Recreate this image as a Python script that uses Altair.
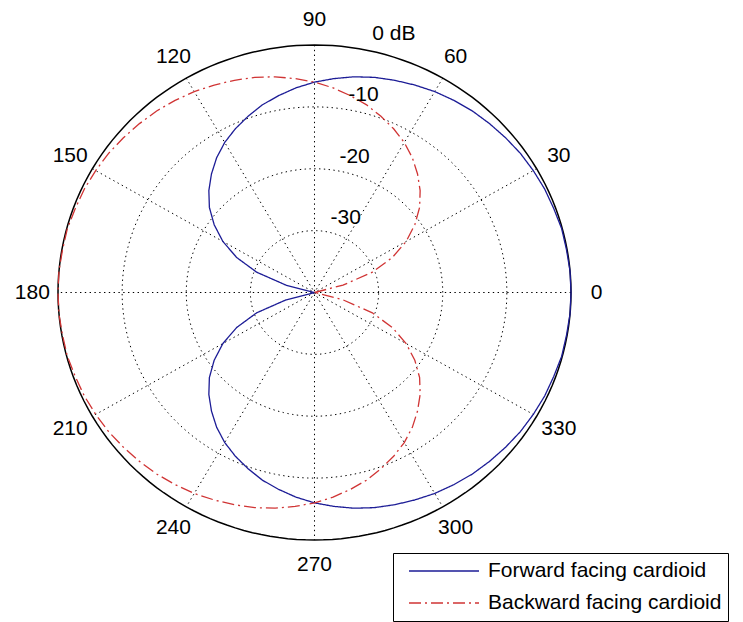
import altair as alt
import pandas as pd

# Directional response of two cardioid microphones, in dB (floor at -40 dB)
angles = list(range(0, 361, 5))
forward_db = [
    0.0, -0.0, -0.1, -0.1, -0.3, -0.4, -0.6, -0.8, -1.1, -1.4, -1.7, -2.1,
    -2.5, -3.0, -3.5, -4.0, -4.6, -5.3, -6.0, -6.8, -7.7, -8.6, -9.7, -10.8,
    -12.0, -13.4, -15.0, -16.7, -18.6, -20.9, -23.5, -26.6, -30.4, -35.4, -40.0, -40.0,
    -40.0,
    -40.0, -40.0, -35.4, -30.4, -26.6, -23.5, -20.9, -18.6, -16.7, -15.0, -13.4, -12.0,
    -10.8, -9.7, -8.6, -7.7, -6.8, -6.0, -5.3, -4.6, -4.0, -3.5, -3.0, -2.5,
    -2.1, -1.7, -1.4, -1.1, -0.8, -0.6, -0.4, -0.3, -0.1, -0.1, -0.0, 0.0,
]
backward_db = [
    -40.0, -40.0, -40.0, -35.4, -30.4, -26.6, -23.5, -20.9, -18.6, -16.7, -15.0, -13.4,
    -12.0, -10.8, -9.7, -8.6, -7.7, -6.8, -6.0, -5.3, -4.6, -4.0, -3.5, -3.0,
    -2.5, -2.1, -1.7, -1.4, -1.1, -0.8, -0.6, -0.4, -0.3, -0.1, -0.1, 0.0,
    0.0,
    0.0, -0.1, -0.1, -0.3, -0.4, -0.6, -0.8, -1.1, -1.4, -1.7, -2.1, -2.5,
    -3.0, -3.5, -4.0, -4.6, -5.3, -6.0, -6.8, -7.7, -8.6, -9.7, -10.8, -12.0,
    -13.4, -15.0, -16.7, -18.6, -20.9, -23.5, -26.6, -30.4, -35.4, -40.0, -40.0, -40.0,
]
series_names = ["Forward facing cardioid", "Backward facing cardioid"]
series_colors = ["#1c1c96", "#d03434"]
series_dashes = [[1, 0], [12, 4, 2, 4]]

db_floor = -40
ring_db = [-30, -20, -10, 0]
ring_text = ["-30", "-20", "-10", "0 dB"]
spoke_deg = [0, 30, 60, 90, 120, 150]
angle_ticks = list(range(0, 360, 30))
circle_deg = list(range(0, 361, 2))

FONT = "Liberation Sans"
GRID_DASH = [1.4, 3.4]
NBSP = "\u00a0"

curves = pd.DataFrame({
    "angle": angles * 2,
    "db": forward_db + backward_db,
    "series": [series_names[0]] * len(angles) + [series_names[1]] * len(angles),
    "idx": list(range(len(angles))) * 2,
})
rings = pd.DataFrame(
    [{"db": d, "angle": a, "idx": i} for d in ring_db for i, a in enumerate(circle_deg)]
)
spokes = pd.DataFrame({"angle": spoke_deg})
ticks = pd.DataFrame({"angle": angle_ticks, "label": [str(a) for a in angle_ticks]})
ring_labels = pd.DataFrame({"db": ring_db, "label": ring_text})

# dB -> normalised radius (0 at the floor, 1 at 0 dB)
R_EXPR = f"(max(datum.db, {db_floor}) - ({db_floor})) / {-db_floor}"

xs = alt.Scale(domain=[-1.22612, 1.67057], nice=False, zero=False)
ys = alt.Scale(domain=[-1.33131, 1.18182], nice=False, zero=False)
X = alt.X("x:Q", scale=xs, axis=None)
Y = alt.Y("y:Q", scale=ys, axis=None)


def polar(chart, radius=R_EXPR):
    return chart.transform_calculate(r=radius).transform_calculate(
        x="datum.r * cos(datum.angle * PI / 180)",
        y="datum.r * sin(datum.angle * PI / 180)",
    )


dotted_rings = polar(
    alt.Chart(rings).transform_filter("datum.db < 0")
).mark_line(stroke="#000", strokeWidth=1, strokeDash=GRID_DASH).encode(
    x=X, y=Y, detail="db:N", order="idx:Q"
)

outer_ring = polar(
    alt.Chart(rings).transform_filter("datum.db == 0")
).mark_line(stroke="#000", strokeWidth=1.5).encode(x=X, y=Y, order="idx:Q")

spoke_lines = alt.Chart(spokes).transform_calculate(
    x="cos(datum.angle * PI / 180)",
    y="sin(datum.angle * PI / 180)",
    x2="-cos(datum.angle * PI / 180)",
    y2="-sin(datum.angle * PI / 180)",
).mark_rule(stroke="#000", strokeWidth=1, strokeDash=GRID_DASH).encode(
    x=X, y=Y, x2="x2:Q", y2="y2:Q"
)

# legend box runs on past the right edge of the canvas
legend = alt.Legend(
    title=None,
    orient="none",
    legendX=393,
    legendY=553,
    strokeColor="#000",
    fillColor="#fff",
    padding=6,
    cornerRadius=0,
    symbolType="stroke",
    symbolSize=4900,
    symbolStrokeWidth=1.3,
    symbolOffset=9,
    labelFont=FONT,
    labelFontSize=21,
    labelColor="#000",
    labelOffset=8,
    labelLimit=0,
    clipHeight=24,
    rowPadding=8,
    labelExpr="datum.label + '" + NBSP * 8 + "'",
)

curve_lines = polar(alt.Chart(curves)).mark_line(strokeWidth=1.3).encode(
    x=X,
    y=Y,
    order="idx:Q",
    color=alt.Color("series:N", scale=alt.Scale(domain=series_names, range=series_colors),
                    sort=series_names, legend=legend),
    strokeDash=alt.StrokeDash("series:N", scale=alt.Scale(domain=series_names, range=series_dashes),
                              sort=series_names, legend=legend),
)

tick_text = alt.Chart(ticks).transform_calculate(
    x="1.1 * cos(datum.angle * PI / 180)",
    y="1.1 * sin(datum.angle * PI / 180)",
).mark_text(font=FONT, fontSize=21, color="#000", align="center", baseline="middle").encode(
    x=X, y=Y, text="label:N"
)

ring_r = f"{R_EXPR} + 0.03"
ring_label_base = alt.Chart(ring_labels).transform_calculate(angle="82")
ring_text_inner = polar(
    ring_label_base.transform_filter("datum.db < 0"), ring_r
).mark_text(font=FONT, fontSize=21, color="#000", align="left", baseline="alphabetic", dx=6).encode(
    x=X, y=Y, text="label:N"
)
ring_text_outer = polar(
    ring_label_base.transform_filter("datum.db == 0"), ring_r
).mark_text(font=FONT, fontSize=21, color="#000", align="left", baseline="alphabetic", dx=21).encode(
    x=X, y=Y, text="label:N"
)

chart = alt.layer(
    dotted_rings, spoke_lines, outer_ring, curve_lines, tick_text, ring_text_inner, ring_text_outer
).properties(
    width=743,
    height=622,
    autosize=alt.AutoSizeParams(type="none"),
    padding=0,
    background="#ffffff",
).configure_view(stroke=None)

chart.save("out.html", embed_options={"renderer": "svg", "actions": False})
